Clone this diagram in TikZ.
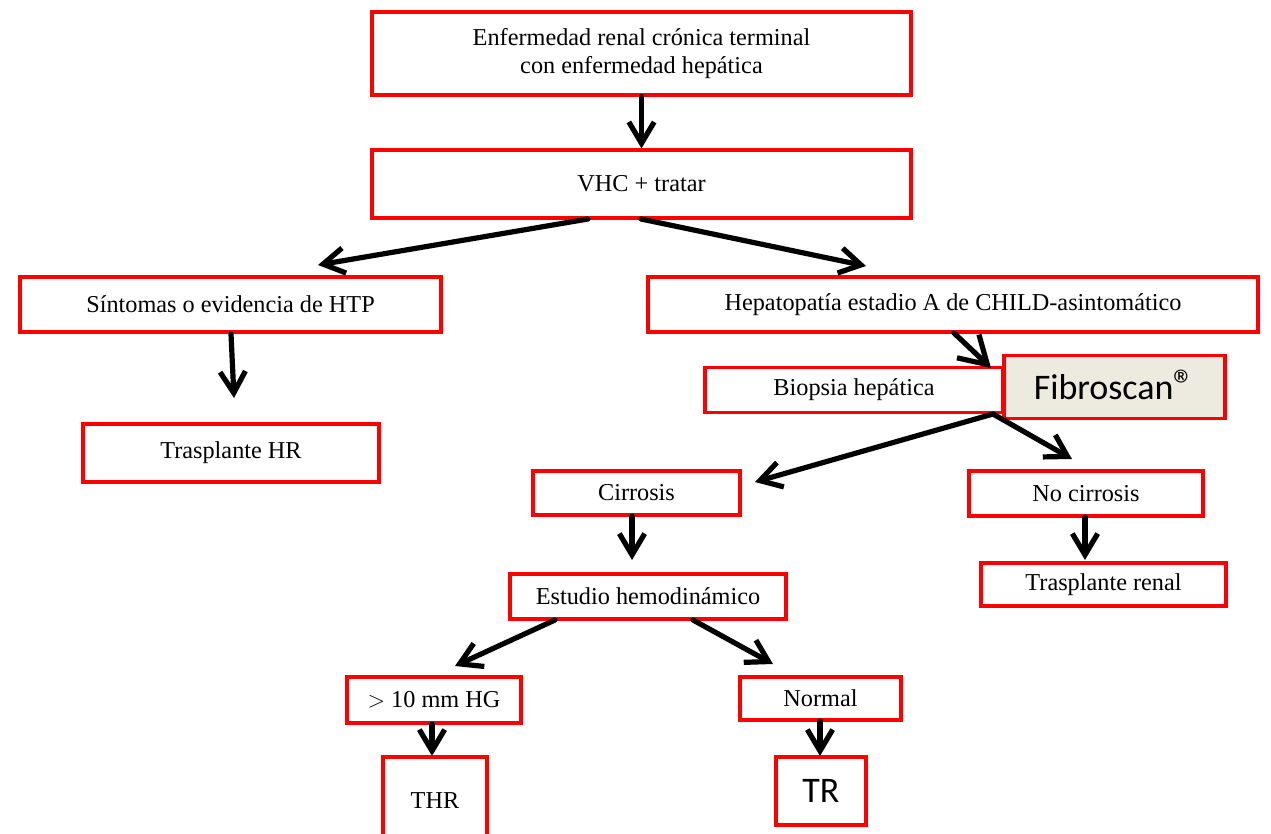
\documentclass[tikz,border=0pt]{standalone}
\usepackage{fontspec}
\setmainfont{Liberation Serif}
\newfontfamily\carl{Carlito}
\usetikzlibrary{arrows.meta}
\definecolor{boxred}{RGB}{255,0,0}
\definecolor{fibfill}{RGB}{237,234,224}
\begin{document}
\begin{tikzpicture}[x=0.75pt,y=-0.75pt,
  box/.style={draw=boxred,line width=2.4pt,fill=white,inner sep=0pt,align=center,font=\fontsize{18.2}{21}\selectfont},
  bigbox/.style={box,font=\carl\fontsize{27}{30}\selectfont},
  arr/.style={line width=3.9pt,line cap=round,-{Straight Barb[length=16pt,width=19pt]}}]
\clip (0,0) rectangle (1271,834);
\fill[white] (0,0) rectangle (1271,834);
% boxes
\node[box,minimum width=404.25pt,minimum height=62.25pt] (top) at (641.5,53.5) {Enfermedad renal crónica terminal\\con enfermedad hepática};
\node[box,minimum width=404.25pt,minimum height=51pt] (vhc) at (641.5,184) {VHC + tratar};
\node[box,minimum width=315.75pt,minimum height=41.25pt] (sint) at (230.5,304.5) {Síntomas o evidencia de HTP};
\node[box,minimum width=457.5pt,minimum height=41.25pt] (hep) at (953,304.5) {Hepatopatía estadio A de CHILD-asintomático};
\node[box,minimum width=223.5pt,minimum height=33.75pt] (bio) at (854,390) {Biopsia hepática};
\node[bigbox,fill=fibfill,minimum width=165.75pt,minimum height=47.25pt] (fib) at (1114.5,387) {Fibroscan\smash{\fontsize{32}{32}\selectfont ®}};
\node[box,minimum width=222pt,minimum height=43.5pt] (thr1) at (231,453) {Trasplante HR};
\node[box,minimum width=155.25pt,minimum height=33pt] (cir) at (636.5,493) {Cirrosis};
\node[box,minimum width=175.5pt,minimum height=33.75pt] (nocir) at (1086,493.5) {No cirrosis};
\node[box,minimum width=207pt,minimum height=33.75pt] (est) at (648,596.5) {Estudio hemodinámico};
\node[box,minimum width=183.75pt,minimum height=32.25pt] (tren) at (1103.5,584.5) {Trasplante renal};
\node[box,minimum width=130.5pt,minimum height=34.5pt] (mm) at (434,700) {$>$ 10 mm HG};
\node[box,minimum width=120.75pt,minimum height=32.25pt] (nor) at (820.5,698.5) {Normal};
\node[box,minimum width=78pt,minimum height=66pt] (thr) at (435,801) {THR};
\node[bigbox,minimum width=67.5pt,minimum height=51pt] (tr) at (821,791) {TR};
% arrow ends
\coordinate (vb1) at (588,219);
\coordinate (vb2) at (318,265);
\coordinate (vc1) at (641,219);
\coordinate (vc2) at (866,266);
\coordinate (sd1) at (231,334);
\coordinate (sd2) at (234,398);
\coordinate (he1) at (954,333);
\coordinate (he2) at (991,368);
\coordinate (bf1) at (993,414);
\coordinate (bf2) at (755,482);
\coordinate (bg2) at (1072,459);
\coordinate (ch1) at (632,516);
\coordinate (ch2) at (632,560);
\coordinate (ni1) at (1085,517);
\coordinate (ni2) at (1085,560);
\coordinate (ej1) at (555,620);
\coordinate (ej2) at (455,666);
\coordinate (ek1) at (693,620);
\coordinate (ek2) at (773,664);
\coordinate (ml1) at (432,724);
\coordinate (ml2) at (432,756);
\coordinate (nm1) at (820,721);
\coordinate (nm2) at (820,756);
% arrows
\draw[arr] (top.south) -- (vhc.north);
\draw[arr] (vb1) -- (vb2);
\draw[arr] (vc1) -- (vc2);
\draw[arr] (sd1) -- (sd2);
\draw[arr,-{Straight Barb[length=20pt,width=24pt]}] (he1) -- (he2);
\draw[arr] (bf1) -- (bf2);
\draw[arr] (bf1) -- (bg2);
\draw[arr] (ch1) -- (ch2);
\draw[arr] (ni1) -- (ni2);
\draw[arr] (ej1) -- (ej2);
\draw[arr] (ek1) -- (ek2);
\draw[arr] (ml1) -- (ml2);
\draw[arr] (nm1) -- (nm2);
\end{tikzpicture}
\end{document}
